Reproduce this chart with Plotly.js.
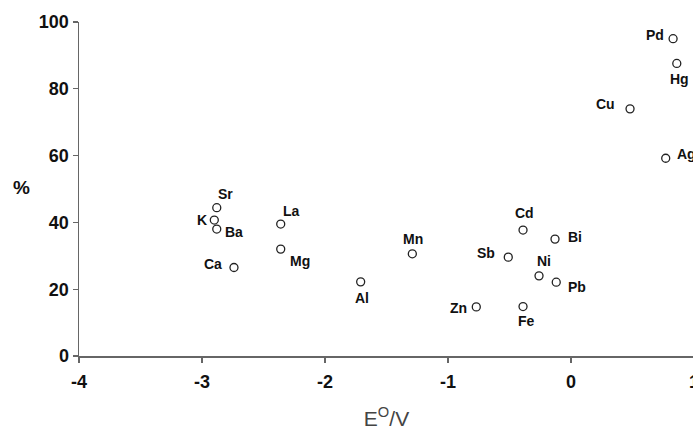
<!DOCTYPE html>
<html>
<head>
<meta charset="utf-8">
<script src="https://cdn.plot.ly/plotly-3.0.1.min.js"></script>
<style>
html,body{margin:0;padding:0;overflow:hidden;background:#fff;}
#chart{width:700px;height:430px;}
</style>
</head>
<body>
<div id="chart"></div>
<script>
// Data
const elements = ["Pd","Hg","Cu","Ag","Sr","K","Ba","Ca","La","Mg","Al","Mn","Zn","Fe","Cd","Sb","Ni","Pb","Bi"];
const potentials = [0.83,0.86,0.48,0.77,-2.88,-2.90,-2.88,-2.74,-2.36,-2.36,-1.71,-1.29,-0.77,-0.39,-0.39,-0.51,-0.26,-0.12,-0.13];
const percents = [95.0,87.6,74.0,59.2,44.4,40.7,38.0,26.5,39.5,32.0,22.2,30.6,14.7,14.8,37.7,29.6,24.0,22.1,35.0];
const xTicks = [-4,-3,-2,-1,0,1];
const yTicks = [0,20,40,60,80,100];

// Label offsets in pixels (style, not data)
const labelShift = {
  Pd:[-18,-4], Hg:[3,16], Cu:[-25,-5], Ag:[21,-4], Sr:[9,-14], K:[-12,0],
  Ba:[17,3], Ca:[-21,-3], La:[11,-13], Mg:[19,12], Al:[1,16], Mn:[1,-15],
  Zn:[-18,1], Fe:[3,14], Cd:[1,-17], Sb:[-22,-4], Ni:[5,-15], Pb:[21,5], Bi:[20,-2]
};

const trace = {
  type:'scatter', mode:'markers',
  x: potentials, y: percents,
  marker:{symbol:'circle', size:8, color:'#ffffff', line:{color:'#222', width:1.3}},
  hoverinfo:'skip', cliponaxis:false
};

const annotations = elements.map((el,i)=>({
  x: potentials[i], y: percents[i], xref:'x', yref:'y',
  text: el, showarrow:false,
  xshift: labelShift[el][0], yshift: -labelShift[el][1],
  font:{family:'Liberation Sans, Arial, sans-serif', size:14, color:'#111', weight:'bold'}
}));
annotations.push({
  xref:'paper', yref:'paper', x:-0.093, y:0.503, xanchor:'center', yanchor:'middle',
  text:'%', showarrow:false,
  font:{family:'Liberation Sans, Arial, sans-serif', size:19, color:'#111', weight:'bold'}
});

const axisCommon = {
  showgrid:false, zeroline:false, showline:true, linecolor:'#666', linewidth:1.5,
  ticks:'outside', ticklen:5, tickwidth:1.3, tickcolor:'#666',
  tickfont:{family:'Liberation Sans, Arial, sans-serif', size:18, color:'#111', weight:'bold'}
};

const layout = {
  width:700, height:430,
  margin:{l:79, r:6, t:22, b:74},
  paper_bgcolor:'#fff', plot_bgcolor:'#fff',
  showlegend:false,
  xaxis: Object.assign({}, axisCommon, {
    range:[-4,1], tickvals:xTicks, ticktext:xTicks.map(String), ticklabelstandoff:4,
    title:{text:'E<sup>O</sup>/V', standoff:22, font:{family:'Liberation Sans, Arial, sans-serif', size:21, color:'#444'}}
  }),
  yaxis: Object.assign({}, axisCommon, {
    range:[0,100], tickvals:yTicks, ticktext:yTicks.map(String)
  }),
  annotations: annotations
};

Plotly.newPlot('chart',[trace],layout,{displayModeBar:false,staticPlot:true});
</script>
</body>
</html>
